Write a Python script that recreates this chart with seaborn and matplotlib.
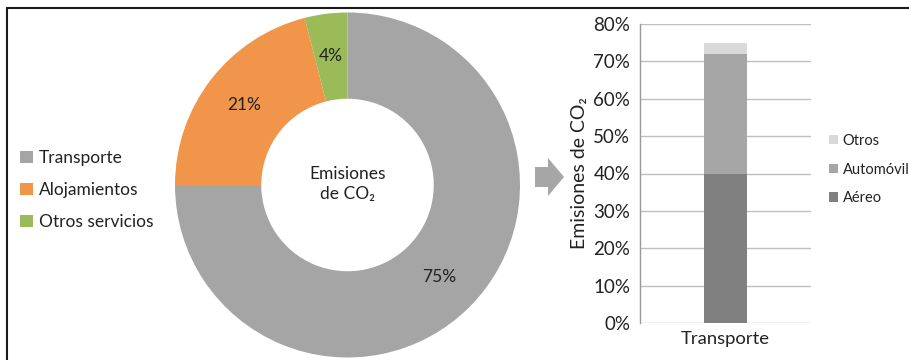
import matplotlib
matplotlib.use("Agg")
import matplotlib.pyplot as plt
from matplotlib.patches import Patch, Polygon
from matplotlib.lines import Line2D
import seaborn as sns
import numpy as np

# ---- data ----
pie_labels = ["Transporte", "Alojamientos", "Otros servicios"]
pie_values = [75, 21, 4]
pie_colors = ["#a5a5a5", "#f0954a", "#9bbb59"]

bar_category = ["Transporte"]
bar_series = ["Aéreo", "Automóvil", "Otros"]
bar_values = [40, 32, 3]
bar_colors = ["#808080", "#a6a6a6", "#d9d9d9"]
yticks = [0, 10, 20, 30, 40, 50, 60, 70, 80]

sns.set_style("white")
LEFT_FONT = ["Lato", "DejaVu Sans"]
plt.rcParams["font.family"] = LEFT_FONT
TXT = "#222222"

fig = plt.figure(figsize=(9.09, 3.6), dpi=100)

# ---- donut ----
W, H = 909, 360
cx, cy, R = 347.5, 185, 172.5
axp = fig.add_axes([(cx - R) / W, (H - cy - R) / H, 2 * R / W, 2 * R / H])
wedges, texts, autotexts = axp.pie(
    pie_values, colors=pie_colors, startangle=90, counterclock=False,
    radius=1, wedgeprops=dict(width=0.5, linewidth=0),
    autopct=lambda p: f"{p:.0f}%", pctdistance=0.755,
    textprops=dict(fontsize=12.5, color=TXT, family=LEFT_FONT))
axp.set_xlim(-1, 1)
axp.set_ylim(-1, 1)
axp.text(0, 0.065, "Emisiones", ha="center", va="center", fontsize=12.5,
         color=TXT, family=LEFT_FONT)
axp.text(0, -0.05, "de CO₂", ha="center", va="center", fontsize=12.5,
         color=TXT, family=LEFT_FONT)

handles = [Patch(facecolor=c, edgecolor="none") for c in pie_colors]
fig.legend(handles, pie_labels, loc="center left",
           bbox_to_anchor=(20 / W, 1 - 190 / H), frameon=False,
           fontsize=12.5, handlelength=0.75, handleheight=0.75,
           handletextpad=0.35, labelspacing=0.92, borderpad=0,
           borderaxespad=0, labelcolor=TXT)

# ---- arrow ----
pts = np.array([[535, 167], [548, 167], [548, 158], [564, 177],
                [548, 196], [548, 187], [535, 187]], dtype=float)
pts_in = np.column_stack([pts[:, 0] / 100, (H - pts[:, 1]) / 100])
fig.patches.append(Polygon(pts_in, closed=True, facecolor="#a6a6a6",
                           edgecolor="none", transform=fig.dpi_scale_trans))

# ---- stacked bar ----
axb = fig.add_axes([640 / W, (H - 323) / H, 171 / W, 299 / H])
cum = np.cumsum(bar_values)
for i in range(len(bar_series) - 1, -1, -1):
    sns.barplot(x=bar_category, y=[cum[i]], color=bar_colors[i],
                width=0.25, ax=axb, saturation=1, linewidth=0)
axb.set_xlim(-0.5, 0.5)
axb.set_ylim(0, 80)
axb.set_yticks(yticks)
axb.set_yticklabels([f"{v}%" for v in yticks])
axb.grid(axis="y", color="#bfbfbf", linewidth=1)
axb.set_axisbelow(True)
for s in ["top", "right", "bottom"]:
    axb.spines[s].set_visible(False)
axb.spines["left"].set_color("#9a9a9a")
axb.spines["left"].set_linewidth(1)
axb.tick_params(axis="y", length=5, color="#9a9a9a", width=1, pad=2,
                labelsize=13.5, labelcolor=TXT)
axb.tick_params(axis="x", length=0, pad=6, labelsize=13.3, labelcolor=TXT)
axb.set_ylabel("Emisiones de CO₂", fontsize=14, color=TXT,
               family=LEFT_FONT, labelpad=4)
axb.set_xlabel("")

bh = [Patch(facecolor=c, edgecolor="none") for c in bar_colors][::-1]
axb.legend(bh, bar_series[::-1], loc="center left",
           bbox_to_anchor=(829 / W, 1 - 169.5 / H),
           bbox_transform=fig.transFigure, frameon=False,
           prop=dict(family=LEFT_FONT, size=10.5), handlelength=0.6,
           handleheight=0.6, handletextpad=0.35, labelspacing=1.0,
           borderpad=0, borderaxespad=0, labelcolor=TXT)

# ---- frame lines ----
fig.add_artist(Line2D([0.07, 0.07], [0, (H - 8) / 100], color="#1a1a1a",
                      linewidth=1.5, transform=fig.dpi_scale_trans))
fig.add_artist(Line2D([0.07, 9.09], [(H - 8) / 100, (H - 8) / 100],
                      color="#1a1a1a", linewidth=1.5,
                      transform=fig.dpi_scale_trans))

fig.savefig("out.png", dpi=100)
